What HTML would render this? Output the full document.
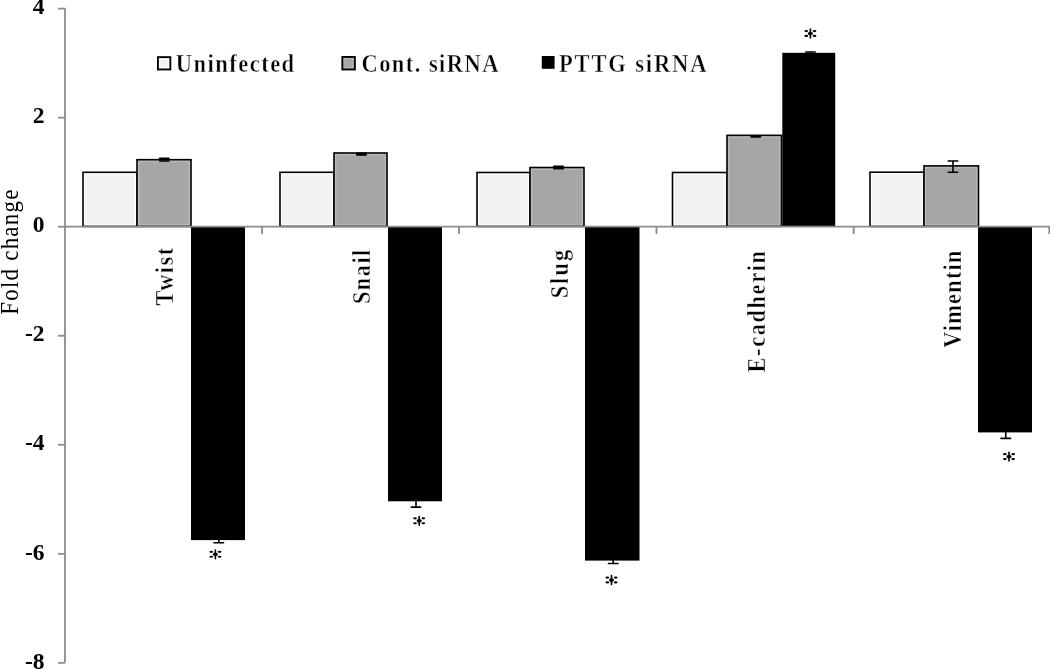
<!DOCTYPE html>
<html><head><meta charset="utf-8"><title>Fold change chart</title>
<style>
html,body{margin:0;padding:0;background:#fff;}
body{width:1050px;height:670px;overflow:hidden;position:relative;}
svg{position:absolute;left:0;top:0;display:block;filter:grayscale(1) blur(0.35px);}
text{font-family:"Liberation Serif",serif;fill:#000;}
.tl{font-size:23.5px;font-weight:bold;}
.cl{font-size:25px;font-weight:bold;}
.yt{font-size:25.5px;}
.lg{font-size:25.4px;font-weight:bold;}
</style></head>
<body>
<svg width="1050" height="670" viewBox="0 0 1050 670">
<rect width="1050" height="670" fill="#fff"/>
<rect x="83.00" y="172.30" width="54.00" height="54.10" fill="#ffffff" stroke="#000" stroke-width="1.6"/>
<rect x="85.40" y="174.70" width="49.20" height="49.50" fill="#f2f2f2"/>
<rect x="280.00" y="172.30" width="54.00" height="54.10" fill="#ffffff" stroke="#000" stroke-width="1.6"/>
<rect x="282.40" y="174.70" width="49.20" height="49.50" fill="#f2f2f2"/>
<rect x="477.00" y="172.50" width="53.00" height="53.90" fill="#ffffff" stroke="#000" stroke-width="1.6"/>
<rect x="479.40" y="174.90" width="48.20" height="49.30" fill="#f2f2f2"/>
<rect x="672.50" y="172.50" width="54.50" height="53.90" fill="#ffffff" stroke="#000" stroke-width="1.6"/>
<rect x="674.90" y="174.90" width="49.70" height="49.30" fill="#f2f2f2"/>
<rect x="870.00" y="172.20" width="54.00" height="54.20" fill="#ffffff" stroke="#000" stroke-width="1.6"/>
<rect x="872.40" y="174.60" width="49.20" height="49.60" fill="#f2f2f2"/>
<rect x="137.00" y="159.70" width="54.00" height="66.70" fill="#b9b9b9" stroke="#000" stroke-width="1.6"/>
<rect x="139.40" y="162.10" width="49.20" height="62.10" fill="#a6a6a6"/>
<rect x="334.00" y="153.00" width="53.00" height="73.40" fill="#b9b9b9" stroke="#000" stroke-width="1.6"/>
<rect x="336.40" y="155.40" width="48.20" height="68.80" fill="#a6a6a6"/>
<rect x="530.00" y="167.50" width="54.00" height="58.90" fill="#b9b9b9" stroke="#000" stroke-width="1.6"/>
<rect x="532.40" y="169.90" width="49.20" height="54.30" fill="#a6a6a6"/>
<rect x="727.00" y="135.35" width="54.50" height="91.05" fill="#b9b9b9" stroke="#000" stroke-width="1.6"/>
<rect x="729.40" y="137.75" width="49.70" height="86.45" fill="#a6a6a6"/>
<rect x="924.00" y="165.90" width="54.50" height="60.50" fill="#b9b9b9" stroke="#000" stroke-width="1.6"/>
<rect x="926.40" y="168.30" width="49.70" height="55.90" fill="#a6a6a6"/>
<rect x="191.00" y="226.70" width="54.00" height="313.40" fill="#000"/>
<rect x="388.00" y="226.70" width="54.00" height="274.60" fill="#000"/>
<rect x="585.00" y="226.70" width="54.50" height="333.90" fill="#000"/>
<rect x="782.30" y="52.80" width="52.90" height="173.90" fill="#000"/>
<rect x="978.00" y="226.70" width="54.00" height="205.70" fill="#000"/>
<path d="M65 8.62V662.86" stroke="#8c8c8c" stroke-width="1.8" fill="none"/>
<path d="M58 8.62H65" stroke="#8c8c8c" stroke-width="1.8" fill="none"/>
<path d="M58 117.66H65" stroke="#8c8c8c" stroke-width="1.8" fill="none"/>
<path d="M58 226.70H65" stroke="#8c8c8c" stroke-width="1.8" fill="none"/>
<path d="M58 335.74H65" stroke="#8c8c8c" stroke-width="1.8" fill="none"/>
<path d="M58 444.78H65" stroke="#8c8c8c" stroke-width="1.8" fill="none"/>
<path d="M58 553.82H65" stroke="#8c8c8c" stroke-width="1.8" fill="none"/>
<path d="M58 662.86H65" stroke="#8c8c8c" stroke-width="1.8" fill="none"/>
<path d="M65 226.70H1050" stroke="#8c8c8c" stroke-width="1.8" fill="none"/>
<path d="M262.00 226.70V234.00" stroke="#8c8c8c" stroke-width="1.8" fill="none"/>
<path d="M459.00 226.70V234.00" stroke="#8c8c8c" stroke-width="1.8" fill="none"/>
<path d="M656.50 226.70V234.00" stroke="#8c8c8c" stroke-width="1.8" fill="none"/>
<path d="M853.70 226.70V234.00" stroke="#8c8c8c" stroke-width="1.8" fill="none"/>
<path d="M1049.30 226.70V234.00" stroke="#8c8c8c" stroke-width="1.8" fill="none"/>
<path d="M159.50 158.30H169.00M159.50 161.00H169.00M164.25 158.30V161.00" stroke="#000" stroke-width="1.6" fill="none" stroke-linecap="round"/>
<path d="M356.75 153.40H366.25M356.75 155.00H366.25M361.50 153.40V155.00" stroke="#000" stroke-width="1.6" fill="none" stroke-linecap="round"/>
<path d="M553.75 166.30H563.25M553.75 168.70H563.25M558.50 166.30V168.70" stroke="#000" stroke-width="1.6" fill="none" stroke-linecap="round"/>
<path d="M751.05 135.70H760.55M751.05 137.00H760.55M755.80 135.70V137.00" stroke="#000" stroke-width="1.6" fill="none" stroke-linecap="round"/>
<path d="M948.25 161.00H957.75M948.25 172.30H957.75M953.00 161.00V172.30" stroke="#000" stroke-width="1.6" fill="none" stroke-linecap="round"/>
<path d="M214.05 538.00H223.55M214.05 542.70H223.55M218.80 538.00V542.70" stroke="#000" stroke-width="1.6" fill="none" stroke-linecap="round"/>
<path d="M411.25 499.50H420.75M411.25 507.10H420.75M416.00 499.50V507.10" stroke="#000" stroke-width="1.6" fill="none" stroke-linecap="round"/>
<path d="M608.45 558.50H617.95M608.45 563.50H617.95M613.20 558.50V563.50" stroke="#000" stroke-width="1.6" fill="none" stroke-linecap="round"/>
<path d="M805.70 52.00H815.20M805.70 55.00H815.20M810.45 52.00V55.00" stroke="#000" stroke-width="1.6" fill="none" stroke-linecap="round"/>
<path d="M1001.00 430.50H1010.50M1001.00 438.40H1010.50M1005.75 430.50V438.40" stroke="#000" stroke-width="1.6" fill="none" stroke-linecap="round"/>
<g fill="#000"><path d="M215.40 549.95V558.75" stroke="#000" stroke-width="1.6" stroke-linecap="round" fill="none"/><ellipse cx="215.40" cy="554.30" rx="2.5" ry="1.85"/><ellipse cx="211.25" cy="551.85" rx="1.9" ry="1.1"/><ellipse cx="211.25" cy="556.75" rx="1.9" ry="1.1"/><ellipse cx="219.55" cy="551.85" rx="1.9" ry="1.1"/><ellipse cx="219.55" cy="556.75" rx="1.9" ry="1.1"/></g>
<g fill="#000"><path d="M419.20 516.45V525.25" stroke="#000" stroke-width="1.6" stroke-linecap="round" fill="none"/><ellipse cx="419.20" cy="520.80" rx="2.5" ry="1.85"/><ellipse cx="415.05" cy="518.35" rx="1.9" ry="1.1"/><ellipse cx="415.05" cy="523.25" rx="1.9" ry="1.1"/><ellipse cx="423.35" cy="518.35" rx="1.9" ry="1.1"/><ellipse cx="423.35" cy="523.25" rx="1.9" ry="1.1"/></g>
<g fill="#000"><path d="M611.50 575.65V584.45" stroke="#000" stroke-width="1.6" stroke-linecap="round" fill="none"/><ellipse cx="611.50" cy="580.00" rx="2.5" ry="1.85"/><ellipse cx="607.35" cy="577.55" rx="1.9" ry="1.1"/><ellipse cx="607.35" cy="582.45" rx="1.9" ry="1.1"/><ellipse cx="615.65" cy="577.55" rx="1.9" ry="1.1"/><ellipse cx="615.65" cy="582.45" rx="1.9" ry="1.1"/></g>
<g fill="#000"><path d="M810.40 29.15V37.95" stroke="#000" stroke-width="1.6" stroke-linecap="round" fill="none"/><ellipse cx="810.40" cy="33.50" rx="2.5" ry="1.85"/><ellipse cx="806.25" cy="31.05" rx="1.9" ry="1.1"/><ellipse cx="806.25" cy="35.95" rx="1.9" ry="1.1"/><ellipse cx="814.55" cy="31.05" rx="1.9" ry="1.1"/><ellipse cx="814.55" cy="35.95" rx="1.9" ry="1.1"/></g>
<g fill="#000"><path d="M1009.00 452.25V461.05" stroke="#000" stroke-width="1.6" stroke-linecap="round" fill="none"/><ellipse cx="1009.00" cy="456.60" rx="2.5" ry="1.85"/><ellipse cx="1004.85" cy="454.15" rx="1.9" ry="1.1"/><ellipse cx="1004.85" cy="459.05" rx="1.9" ry="1.1"/><ellipse cx="1013.15" cy="454.15" rx="1.9" ry="1.1"/><ellipse cx="1013.15" cy="459.05" rx="1.9" ry="1.1"/></g>
<text x="44.5" y="14.32" text-anchor="end" class="tl">4</text>
<text x="44.5" y="123.36" text-anchor="end" class="tl">2</text>
<text x="44.5" y="232.40" text-anchor="end" class="tl">0</text>
<text x="44.5" y="341.44" text-anchor="end" class="tl">-2</text>
<text x="44.5" y="450.48" text-anchor="end" class="tl">-4</text>
<text x="44.5" y="559.52" text-anchor="end" class="tl">-6</text>
<text x="44.5" y="668.56" text-anchor="end" class="tl">-8</text>
<text transform="translate(175.84,71.80) scale(0.87,1)" font-size="25.9" font-weight="bold" textLength="136.00" lengthAdjust="spacing" stroke="#fff" stroke-width="0.45">Uninfected</text>
<text transform="translate(361.45,71.80) scale(0.87,1)" font-size="25.9" font-weight="bold" textLength="157.52" lengthAdjust="spacing" stroke="#fff" stroke-width="0.45">Cont. siRNA</text>
<text transform="translate(558.93,71.80) scale(0.87,1)" font-size="25.9" font-weight="bold" textLength="169.59" lengthAdjust="spacing" stroke="#fff" stroke-width="0.45">PTTG siRNA</text>
<text transform="translate(173.25,305.55) rotate(-90) scale(0.87,1)" font-size="25.6" font-weight="bold" textLength="66.44" lengthAdjust="spacing" stroke="#fff" stroke-width="0.45">Twist</text>
<text transform="translate(370.25,304.00) rotate(-90) scale(0.87,1)" font-size="25.6" font-weight="bold" textLength="62.38" lengthAdjust="spacing" stroke="#fff" stroke-width="0.45">Snail</text>
<text transform="translate(567.70,298.35) rotate(-90) scale(0.87,1)" font-size="25.6" font-weight="bold" textLength="55.64" lengthAdjust="spacing" stroke="#fff" stroke-width="0.45">Slug</text>
<text transform="translate(765.00,372.46) rotate(-90) scale(0.87,1)" font-size="25.6" font-weight="bold" textLength="139.60" lengthAdjust="spacing" stroke="#fff" stroke-width="0.45">E-cadherin</text>
<text transform="translate(961.40,347.70) rotate(-90) scale(0.87,1)" font-size="25.6" font-weight="bold" textLength="111.69" lengthAdjust="spacing" stroke="#fff" stroke-width="0.45">Vimentin</text>
<text transform="translate(17.50,314.81) rotate(-90) scale(0.9,1)" font-size="25.5" font-weight="normal" textLength="139.09" lengthAdjust="spacing">Fold change</text>
<rect x="157.95" y="57.15" width="12.40" height="12.30" fill="#ffffff" stroke="#000" stroke-width="1.9"/>
<rect x="160.60" y="59.80" width="7.10" height="7.00" fill="#f2f2f2"/>
<rect x="342.35" y="56.95" width="12.50" height="12.50" fill="#bababa" stroke="#000" stroke-width="1.9"/>
<rect x="344.60" y="59.20" width="8.00" height="8.00" fill="#a6a6a6"/>
<rect x="541.8" y="56" width="12.8" height="12.8" fill="#000"/>
</svg>
</body></html>
